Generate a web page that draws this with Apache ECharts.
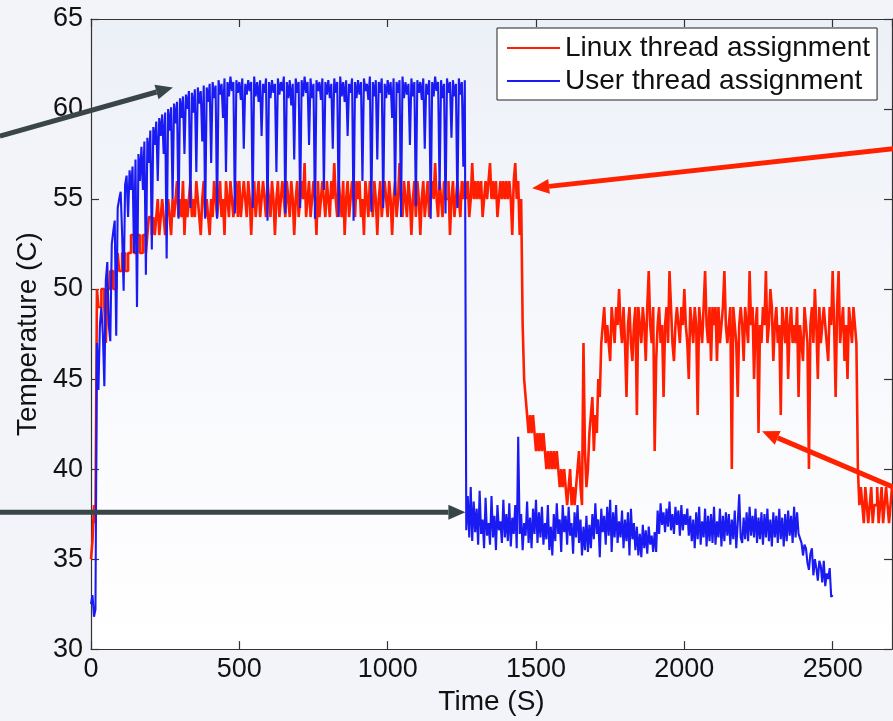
<!DOCTYPE html>
<html>
<head>
<meta charset="utf-8">
<script src="https://cdn.jsdelivr.net/npm/echarts@6/dist/echarts.min.js"></script>
<style>
  html, body { margin: 0; padding: 0; background: #f2f4f9; }
  #chart { width: 893px; height: 721px; }
</style>
</head>
<body>
<div id="chart"></div>
<script>
const sampleStep = 5;

// Linux thread assignment (red), t = 0 .. 2700 s
const linuxTemp = [
  35, 36, 38, 37, 50, 49, 49, 50, 50, 49, 47, 50, 50, 51, 51, 50, 50, 51, 52, 51,
  51, 52, 52, 51, 51, 52, 52, 53, 53, 52, 52, 53, 53, 52, 52, 53, 53, 52, 53, 54,
  54, 53, 54, 53, 54, 55, 53, 54, 55, 54, 53, 54, 55, 54, 53, 55, 54, 55, 56, 54,
  55, 54, 56, 53, 55, 54, 55, 56, 54, 55, 54, 56, 55, 54, 53, 55, 56, 54, 55, 54,
  53, 55, 54, 56, 55, 54, 55, 56, 54, 55, 53, 56, 55, 54, 56, 55, 54, 55, 56, 54,
  56, 54, 55, 56, 55, 54, 56, 55, 53, 55, 56, 54, 55, 56, 54, 55, 56, 55, 54, 56,
  55, 54, 56, 55, 53, 55, 56, 54, 55, 56, 55, 54, 56, 55, 54, 56, 55, 53, 55, 56,
  54, 55, 56, 55, 57, 54, 55, 56, 54, 55, 56, 55, 53, 56, 54, 55, 56, 55, 54, 56,
  55, 54, 56, 55, 57, 55, 54, 56, 55, 54, 56, 53, 55, 56, 54, 55, 56, 55, 54, 56,
  55, 56, 54, 55, 53, 56, 55, 54, 56, 55, 54, 56, 55, 53, 55, 56, 54, 55, 56, 55,
  54, 56, 55, 53, 55, 56, 54, 55, 57, 55, 54, 56, 55, 54, 56, 55, 53, 55, 56, 54,
  56, 55, 53, 55, 56, 54, 55, 56, 54, 55, 56, 55, 57, 55, 54, 56, 55, 54, 56, 55,
  55, 56, 53, 55, 56, 54, 55, 56, 55, 54, 56, 55, 56, 55, 56, 54, 55, 57, 55, 56,
  55, 56, 55, 56, 54, 55, 56, 55, 56, 57, 55, 56, 55, 56, 54, 55, 56, 55, 56, 55,
  56, 55, 56, 55, 53, 56, 57, 55, 56, 53, 55, 48, 45, 44, 43, 42, 43, 42, 43, 42,
  41, 42, 41, 42, 41, 42, 41, 40, 41, 40, 41, 40, 41, 40, 41, 40, 39, 40, 39, 40,
  39, 38, 39, 40, 38, 39, 38, 39, 40, 41, 39, 38, 47, 41, 39, 40, 42, 43, 44, 41,
  43, 42, 45, 44, 47, 48, 49, 47, 48, 47, 46, 49, 48, 47, 49, 48, 50, 48, 47, 49,
  47, 44, 48, 49, 47, 46, 48, 49, 43, 49, 48, 47, 49, 48, 46, 49, 51, 48, 47, 49,
  41, 46, 48, 49, 47, 48, 44, 48, 49, 47, 51, 49, 47, 46, 48, 49, 48, 47, 49, 48,
  50, 48, 47, 45, 49, 48, 47, 49, 48, 43, 49, 48, 47, 49, 51, 48, 47, 49, 46, 49,
  48, 49, 46, 49, 47, 48, 49, 51, 48, 47, 48, 49, 40, 49, 48, 47, 44, 48, 49, 48,
  46, 49, 48, 47, 51, 48, 49, 45, 48, 49, 42, 48, 47, 49, 48, 51, 47, 48, 50, 49,
  46, 48, 49, 47, 48, 43, 49, 48, 47, 49, 45, 48, 49, 47, 48, 47, 49, 44, 48, 47,
  46, 49, 48, 47, 40, 48, 49, 47, 50, 48, 45, 49, 47, 48, 49, 48, 47, 46, 49, 48,
  51, 48, 44, 49, 51, 47, 48, 49, 46, 48, 45, 49, 48, 47, 49, 48, 47, 40, 38, 39,
  38, 37, 39, 38, 37, 38, 39, 37, 38, 38, 39, 37, 38, 39, 37, 38, 39, 38, 37, 38,
  39
];

// User thread assignment (blue), t = 0 .. 2500 s
const userTemp = [
  32.5, 33, 31.8, 32.2, 47, 44.4, 48, 49, 47.5, 44.6, 50.5, 51.5, 48, 47.1, 52.5, 53.2, 53.8, 47.4, 54.5, 55,
  55.4, 53, 49.9, 55.8, 56.3, 54, 56.6, 55.5, 56.8, 52, 57.2, 49, 57.5, 56, 57.9, 55.5, 58.2, 50.8, 58.4, 57,
  58.8, 52.2, 59, 58, 59.3, 56, 59.5, 58.5, 59.7, 57.5, 59.8, 51.7, 60, 58.8, 60.1, 55, 60.3, 59.2, 60.4, 53.9,
  60.6, 59.5, 60.7, 57.5, 60.8, 60, 61, 54.5, 60.9, 59.8, 61.1, 56.5, 61.2, 60.3, 61, 58.2, 61.3, 53.9, 61.2, 60.4,
  61.4, 57, 61.5, 60.6, 61.3, 53.9, 61.6, 60.8, 61.4, 59.5, 61.7, 56.5, 61.5, 60.7, 61.8, 61, 61.5, 54.2, 61.6, 60.9,
  61.5, 60.5, 61.7, 57.8, 61.4, 60.8, 61.6, 61, 61.5, 54.5, 61.8, 60.7, 61.5, 60.4, 61.6, 58.5, 61.4, 60.9, 61.7, 53.8,
  61.5, 60.6, 61.6, 60.9, 61.4, 56.5, 61.7, 60.8, 61.5, 61, 61.8, 54.2, 61.5, 60.6, 61.6, 60.2, 61.4, 57.2, 61.7, 60.9,
  61.5, 54.5, 61.6, 60.7, 61.8, 60.9, 61.5, 58, 61.7, 60.6, 61.4, 53.9, 61.6, 61, 61.5, 60.5, 61.7, 55.5, 61.5, 60.8,
  61.6, 60.6, 61.4, 57.8, 61.7, 60.9, 61.5, 54, 61.8, 60.7, 61.5, 60.4, 61.6, 58.5, 61.4, 60.9, 61.7, 53.8, 61.5, 60.6,
  61.6, 60.8, 61.5, 56, 61.7, 61, 61.4, 60.5, 61.8, 54.3, 61.5, 60.7, 61.6, 57.2, 61.5, 60.9, 61.7, 54.5, 61.4, 60.6,
  61.6, 60.8, 61.5, 59.5, 61.7, 55.2, 61.5, 60.9, 61.6, 54, 61.8, 60.6, 61.5, 60.8, 61.4, 58, 61.7, 60.7, 61.5, 54.6,
  61.6, 60.9, 61.5, 60.5, 61.7, 57.8, 61.4, 60.8, 61.6, 53.9, 61.5, 60.7, 61.8, 61, 61.5, 55.5, 61.6, 60.6, 61.4, 54.2,
  61.7, 60.9, 61.5, 58.4, 61.6, 60.7, 61.4, 54.5, 61.7, 60.8, 61.5, 56.8, 61.6, 36.6, 38.5, 36.2, 39, 36, 38.2, 36.5,
  37.8, 35.8, 38.8, 36.4, 37.2, 35.6, 38.4, 36.3, 37, 35.8, 38.5, 36.2, 37.4, 35.5, 38, 36.6, 37.1, 35.9, 38.3, 36.2,
  37.5, 36, 38.1, 35.7, 37.3, 36.4, 38, 35.6, 41.8, 36.4, 37.5, 35.5, 37, 36.3, 38.2, 35.9, 37.3, 35.6, 37.8, 36.4,
  38.3, 35.9, 37.6, 36.2, 37.9, 35.8, 37, 36.1, 38, 35.5, 36.8, 35.2, 37.5, 36, 38.1, 36.4, 37.2, 35.4, 38, 36.5,
  37.4, 35.8, 37.9, 36.3, 37, 35.3, 37.6, 36.2, 38, 35.9, 37.2, 35.2, 36.8, 35.5, 37.4, 35.4, 36.9, 35.6, 37.5, 36.1,
  38.1, 36.4, 37.2, 35.1, 37.8, 36.5, 37.4, 35.8, 37.9, 36.3, 38.3, 35.4, 37.6, 36.2, 38, 35.9, 37.1, 36.2, 37.7, 35.6,
  37.2, 36, 37.6, 35.2, 37.8, 36.1, 37, 35.5, 36.8, 35.2, 36.4, 35.1, 36.9, 35.6, 36.6, 35.3, 36.8, 35.8, 36.3, 35.4,
  36.5, 35.4, 37.7, 36.4, 38.1, 36.9, 37.6, 36.5, 37.8, 36.8, 38.2, 36.6, 37.5, 36.4, 37.9, 36.9, 37.7, 36.3, 38, 36.6,
  37.5, 36.9, 37.8, 36.3, 37.4, 36, 37.2, 35.6, 37.6, 36.1, 37.9, 35.8, 37.1, 36.2, 37.8, 35.7, 37.4, 36, 37.5, 35.9,
  37.9, 35.8, 37.1, 36.2, 37.8, 35.7, 37.4, 36, 37.6, 36.3, 37.5, 35.8, 37.2, 36.1, 37.7, 35.6, 37, 38.6, 36.2, 35.9,
  37.3, 36.1, 37.6, 36, 37.9, 36.3, 37.4, 36.2, 37.8, 35.9, 37.3, 36.1, 37.6, 35.8, 37.5, 36.2, 37.8, 36, 37.2, 35.7,
  37.6, 36.2, 37.4, 35.9, 37.8, 36.1, 37.3, 35.7, 37.5, 36, 37.7, 36.3, 37.4, 35.9, 37.9, 36.2, 37.6, 36.4, 36.5, 35.9,
  35.2, 35.8, 35.6, 34.8, 34.4, 35.3, 35.6, 34.1, 35, 34.5, 33.8, 34.9, 34.6, 33.7, 34.9, 33.5, 34.2, 33.9, 34.5, 32.9,
  33
];

const seriesNames = ["Linux thread assignment", "User thread assignment"];
const xTicks = { min: 0, max: 2700, interval: 500 };
const yTicks = { min: 30, max: 65, interval: 5 };

// annotation arrows in data coordinates: [from, to]
const grayArrows = [
  [[-307, 58.5], [276, 61.2]],
  [[-307, 37.6], [1262, 37.6]]
];
const redArrows = [
  [[2705, 57.8], [1487, 55.6]],
  [[2705, 39.0], [2262, 42.1]]
];

const toPairs = (vals) => vals.map((v, i) => [i * sampleStep, v]);

const chart = echarts.init(document.getElementById("chart"));

const baseX = {
  type: "value",
  min: xTicks.min,
  max: xTicks.max,
  interval: xTicks.interval,
  axisLine: { show: true, onZero: false, lineStyle: { color: "#333", width: 1.2 } },
  axisTick: { show: true, inside: true, length: 8, lineStyle: { color: "#333", width: 1.2 } },
  splitLine: { show: false }
};
const baseY = {
  type: "value",
  min: yTicks.min,
  max: yTicks.max,
  interval: yTicks.interval,
  axisLine: { show: true, onZero: false, lineStyle: { color: "#333", width: 1.2 } },
  axisTick: { show: true, inside: true, length: 8, lineStyle: { color: "#333", width: 1.2 } },
  splitLine: { show: false }
};
const font = "'Liberation Sans', Arial, sans-serif";

const option = {
  backgroundColor: "#f2f4f9",
  animation: false,
  grid: {
    left: 91, top: 19, width: 801, height: 634,
    show: true,
    borderWidth: 0,
    backgroundColor: new echarts.graphic.LinearGradient(0, 0, 0, 1, [
      { offset: 0, color: "#ecf0f7" },
      { offset: 0.5, color: "#f7f8fc" },
      { offset: 1, color: "#ffffff" }
    ])
  },
  legend: {
    orient: "vertical",
    left: 497,
    top: 28,
    padding: [6, 7, 5, 10],
    itemGap: 5,
    itemWidth: 53,
    itemHeight: 2,
    icon: "rect",
    backgroundColor: "#ffffff",
    borderColor: "#222",
    borderWidth: 1,
    borderRadius: 0,
    textStyle: { fontFamily: font, fontSize: 28, color: "#111", lineHeight: 28 },
    data: seriesNames
  },
  xAxis: [
    Object.assign({}, baseX, {
      position: "bottom",
      name: "Time (S)",
      nameLocation: "middle",
      nameGap: 36,
      nameTextStyle: { fontFamily: font, fontSize: 28, color: "#111" },
      axisLabel: {
        fontFamily: font, fontSize: 27, color: "#111", margin: 7, showMaxLabel: false,
        formatter: (v) => String(v)
      }
    }),
    Object.assign({}, baseX, { position: "top", axisLabel: { show: false } })
  ],
  yAxis: [
    Object.assign({}, baseY, {
      position: "left",
      name: "Temperature (C)",
      nameLocation: "middle",
      nameGap: 48,
      nameTextStyle: { fontFamily: font, fontSize: 28, color: "#111" },
      axisLabel: { fontFamily: font, fontSize: 27, color: "#111", margin: 8 }
    }),
    Object.assign({}, baseY, { position: "right", axisLabel: { show: false } })
  ],
  series: [
    {
      name: seriesNames[0],
      type: "line",
      step: "end",
      symbol: "none",
      color: "#ff1e00",
      lineStyle: { color: "#ff1e00", width: 2.6 },
      data: toPairs(linuxTemp),
      z: 2
    },
    {
      name: seriesNames[1],
      type: "line",
      symbol: "none",
      color: "#1a1af2",
      lineStyle: { color: "#1a1af2", width: 2.1 },
      data: toPairs(userTemp),
      z: 3
    }
  ]
};

chart.setOption(option);

// arrows are placed through the chart's own coordinate conversion
function arrow(from, to, color) {
  const p0 = chart.convertToPixel({ xAxisIndex: 0, yAxisIndex: 0 }, from);
  const p1 = chart.convertToPixel({ xAxisIndex: 0, yAxisIndex: 0 }, to);
  const dx = p1[0] - p0[0], dy = p1[1] - p0[1];
  const len = Math.hypot(dx, dy);
  const ux = dx / len, uy = dy / len;
  const headLen = 17, headW = 15;
  const bx = p1[0] - ux * headLen, by = p1[1] - uy * headLen;
  const nx = -uy, ny = ux;
  return [
    {
      type: "line",
      z: 100,
      shape: { x1: p0[0], y1: p0[1], x2: bx, y2: by },
      style: { stroke: color, lineWidth: 5 }
    },
    {
      type: "polygon",
      z: 100,
      shape: { points: [p1, [bx + nx * headW / 2, by + ny * headW / 2], [bx - nx * headW / 2, by - ny * headW / 2]] },
      style: { fill: color }
    }
  ];
}

let elements = [];
grayArrows.forEach(a => { elements = elements.concat(arrow(a[0], a[1], "#3a4548")); });
redArrows.forEach(a => { elements = elements.concat(arrow(a[0], a[1], "#ff2200")); });
chart.setOption({ graphic: elements });
</script>
</body>
</html>
